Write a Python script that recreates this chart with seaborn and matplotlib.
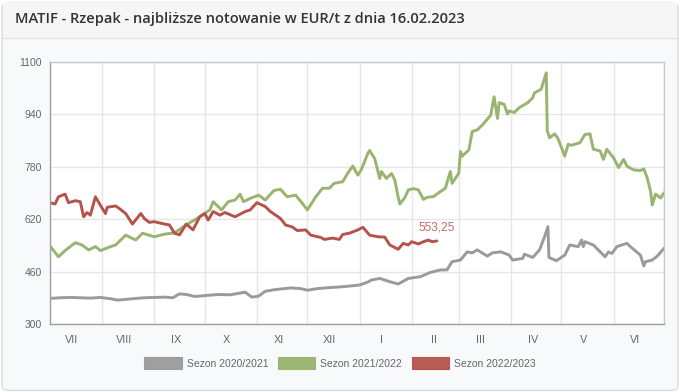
import matplotlib
matplotlib.use('Agg')
import matplotlib.pyplot as plt
from matplotlib.patches import FancyBboxPatch, Rectangle
import numpy as np
import pandas as pd
import seaborn as sns

# days counted from 1 July of each season
grey_days = [0, 6, 12, 18, 24, 30, 36, 40, 45, 51, 56, 62, 68, 73, 77, 81, 86, 91, 95, 101,
             107, 116, 120, 124, 128, 134, 143, 149, 153, 159, 166, 175, 184, 189, 191, 196,
             202, 207, 213, 220, 226, 232, 236, 239, 244, 248, 251, 254, 260, 263, 268, 273,
             275, 281, 282, 287, 291, 294, 296, 296.6, 301, 306, 309, 314, 316, 317, 318, 323,
             330, 332, 334, 337, 343, 345, 351, 353, 354, 358, 361, 365]
grey_values = [378, 380, 381, 380, 379, 381, 377, 373, 375, 378, 380, 381, 382, 380, 392, 390,
               384, 386, 388, 390, 389, 397, 382, 385, 400, 405, 410, 408, 403, 408, 411, 414,
               419, 428, 434, 439, 429, 422, 439, 444, 457, 465, 465, 490, 495, 520, 517, 526,
               507, 517, 520, 510, 495, 500, 513, 503, 526, 566, 597, 503, 493, 510, 541, 536,
               556, 536, 551, 541, 505, 520, 515, 536, 546, 536, 510, 477, 490, 495, 507, 531]

green_days = [0, 5, 9, 15, 19, 23, 27, 30, 36, 39, 45, 51, 55, 62, 68, 74, 80, 89, 95, 97,
              102, 106, 110, 113, 115, 119, 124, 128, 133, 137, 141, 146, 150, 153, 158, 162,
              166, 169, 174, 177, 180, 183, 185, 189, 190, 193, 196, 197, 200, 203, 205, 207,
              208, 211, 213, 216, 219, 222, 224, 228, 231, 235, 238, 239, 243, 244, 245, 249,
              251, 254, 257, 262, 264, 266, 267, 270, 272, 273, 276, 279, 284, 287, 288, 292,
              295, 295.6, 297, 300, 302, 306, 308, 310, 315, 318, 321, 323, 327, 329, 331, 335,
              338, 341, 343, 347, 351, 353, 355, 357, 358, 360, 363, 365]
green_values = [538, 505, 524, 548, 541, 526, 536, 524, 536, 541, 571, 556, 577, 566, 574, 578,
                599, 627, 648, 673, 648, 673, 678, 696, 673, 683, 693, 678, 707, 711, 688, 693,
                668, 648, 688, 714, 714, 729, 734, 760, 782, 754, 770, 821, 829, 805, 744, 765,
                744, 759, 739, 686, 666, 686, 709, 713, 709, 680, 686, 689, 700, 714, 765, 729,
                760, 826, 812, 831, 887, 892, 907, 937, 993, 927, 975, 970, 940, 950, 945, 960,
                975, 990, 1005, 1016, 1066, 889, 868, 880, 865, 812, 848, 845, 853, 878, 880,
                833, 828, 802, 833, 807, 777, 802, 781, 770, 768, 773, 746, 705, 663, 696, 684,
                700]

red_days = [0, 3, 5, 9, 11, 15, 18, 20, 22, 24, 27, 31, 33, 34, 39, 41, 45, 49, 54, 56, 59,
            62, 68, 71, 74, 77, 81, 85, 89, 92, 94, 97, 101, 104, 110, 116, 119, 123, 128, 131,
            137, 140, 144, 147, 152, 155, 161, 163, 168, 172, 174, 178, 183, 186, 190, 195, 199,
            202, 207, 210, 213, 215, 219, 222, 225, 227, 230]
red_values = [670, 666, 688, 696, 670, 676, 673, 627, 640, 632, 688, 653, 637, 656, 660, 653,
              637, 605, 637, 622, 610, 612, 605, 602, 577, 572, 605, 587, 627, 637, 617, 643,
              632, 640, 627, 643, 648, 670, 658, 643, 622, 602, 596, 585, 587, 571, 564, 558,
              562, 558, 573, 577, 587, 595, 571, 566, 565, 541, 528, 546, 541, 551, 544, 551,
              556, 551, 553.25]

seasons = ['Sezon 2020/2021', 'Sezon 2021/2022', 'Sezon 2022/2023']
colors = ['#9a9a9a', '#98b46f', '#b5524c']
months = ['VII', 'VIII', 'IX', 'X', 'XI', 'XII', 'I', 'II', 'III', 'IV', 'V', 'VI']
month_days = [31, 31, 30, 31, 30, 31, 31, 28, 31, 30, 31, 30]
y_ticks = [300, 460, 620, 780, 940, 1100]

df = pd.concat([
    pd.DataFrame({'day': grey_days, 'value': grey_values, 'season': seasons[0]}),
    pd.DataFrame({'day': green_days, 'value': green_values, 'season': seasons[1]}),
    pd.DataFrame({'day': red_days, 'value': red_values, 'season': seasons[2]}),
])

sns.set_style('white')
plt.rcParams['font.family'] = ['Liberation Sans', 'DejaVu Sans']

fig = plt.figure(figsize=(6.8, 3.92), dpi=100)
fig.patch.set_facecolor('white')

# card background, header and border
card = FancyBboxPatch((0.003, 0.004), 0.994, 0.99, boxstyle='round,pad=0,rounding_size=0.012',
                      transform=fig.transFigure, facecolor='#f8f9fa', edgecolor='#dcdcdc',
                      linewidth=1, zorder=-3)
fig.patches.append(card)
header = Rectangle((0.004, 1 - 38 / 392), 0.992, 38 / 392 - 0.006, transform=fig.transFigure,
                   facecolor='#f6f6f6', edgecolor='none', zorder=-2)
fig.patches.append(header)
fig.add_artist(plt.Line2D([0.003, 0.997], [1 - 38 / 392] * 2, transform=fig.transFigure,
                          color='#e2e2e2', linewidth=1))
fig.text(15 / 680, 1 - 19 / 392, 'MATIF - Rzepak - najbliższe notowanie w EUR/t z dnia 16.02.2023',
         fontsize=10.5, fontweight='semibold', color='#333333', va='center', ha='left',
         family=['Open Sans', 'DejaVu Sans'])

ax = fig.add_axes([50 / 680, 1 - 324 / 392, 614 / 680, 262.3 / 392])
ax.set_facecolor('white')

sns.lineplot(data=df, x='day', y='value', hue='season', hue_order=seasons, palette=colors,
             linewidth=2.1, estimator=None, legend=False, ax=ax)

# last value label
ax.annotate(f'{red_values[-1]:.2f}'.replace('.', ','), (red_days[-1], red_values[-1]),
            xytext=(0, 10), textcoords='offset points', ha='center', va='center',
            fontsize=8.6, color='#c76a66')

bounds = np.concatenate([[0], np.cumsum(month_days)])
ax.set_xlim(0, 365)
ax.set_ylim(300, 1100)
ax.set_xticks(bounds)
ax.set_xticklabels([])
ax.set_xticks(bounds[:-1] + 13, minor=True)
ax.set_xticklabels(months, minor=True)
ax.set_yticks(y_ticks)
ax.set_xlabel('')
ax.set_ylabel('')

ax.grid(True, which='major', color='#e6e6e6', linewidth=1)
ax.tick_params(axis='x', which='major', length=5, color='#e0e0e0', width=1)
ax.tick_params(axis='x', which='minor', length=0, pad=8, labelsize=7.8, labelcolor='#666666')
ax.tick_params(axis='y', which='major', length=4, color='#aaaaaa', pad=2, labelsize=7.5,
               labelcolor='#666666')
for side in ['left', 'bottom']:
    ax.spines[side].set_color('#a0a0a0')
for side in ['top', 'right']:
    ax.spines[side].set_color('#c8c8c8')
for s in ax.spines.values():
    s.set_linewidth(1)

handles = [Rectangle((0, 0), 1, 1, facecolor=c, edgecolor=c, alpha=0.95, linewidth=0.8) for c in colors]
fig.legend(handles=handles, labels=seasons, loc='center', bbox_to_anchor=(0.5, 1 - 363 / 392),
           ncol=3, frameon=False, fontsize=7.5, handlelength=3.6, handleheight=1.25,
           handletextpad=0.5, columnspacing=0.9, labelcolor='#666666')

fig.savefig('out.png', dpi=100, facecolor=fig.get_facecolor())
